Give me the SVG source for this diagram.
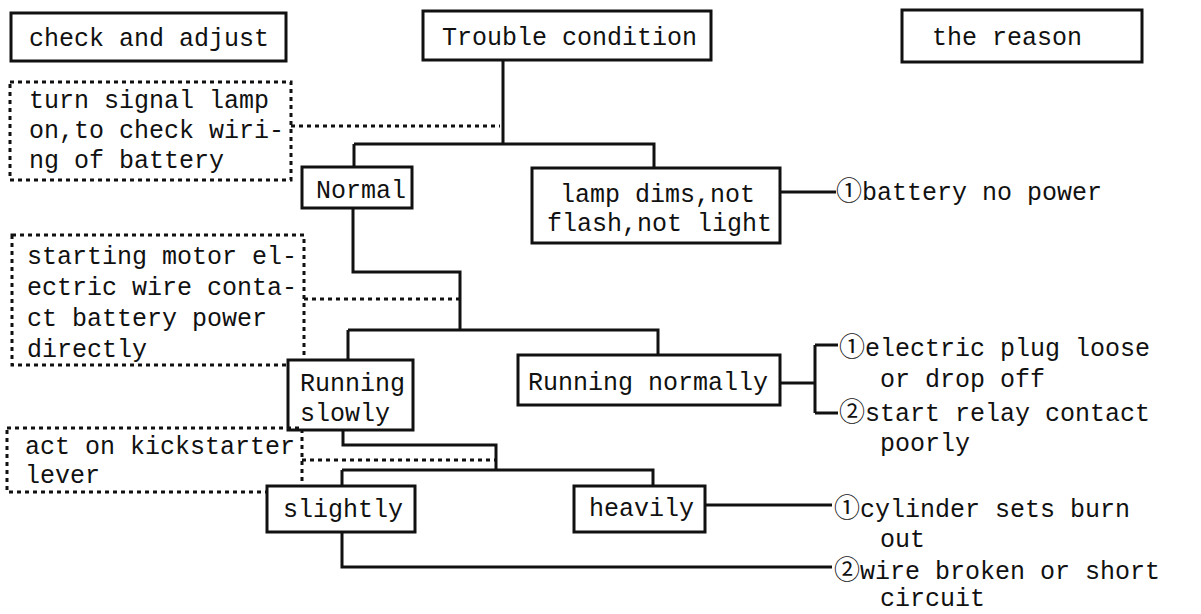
<svg xmlns="http://www.w3.org/2000/svg" width="1201" height="614" viewBox="0 0 1201 614">
<style>
text{font-family:"Liberation Mono","DejaVu Sans Mono",monospace;font-size:25px;fill:#111}
.c{font-family:"Noto Sans CJK JP","DejaVu Sans",sans-serif;font-size:26px}
.box{fill:#fff;stroke:#111;stroke-width:3}
.dot{fill:none;stroke:#111;stroke-width:3;stroke-dasharray:4 4}
.ln{fill:none;stroke:#111;stroke-width:3}
</style>
<rect width="1201" height="614" fill="#fff"/>
<g id="connectors">
<path class="ln" d="M503,60 V144 M354,144 H654 V168 M354,144 V167"/>
<path class="ln" d="M780,192 H836"/>
<path class="ln" d="M353,208 V272 H460 V330 M348,330 H658 V355 M348,330 V360"/>
<path class="ln" d="M780,383 H815 M815,345 V413 M815,345 H838 M815,413 H838"/>
<path class="ln" d="M343,430 V445 H496 V470 M342,470 H653 V486 M342,470 V486"/>
<path class="ln" d="M705,505 H832"/>
<path class="ln" d="M342,532 V567 H832"/>
<path class="dot" d="M291,126 H500"/>
<path class="dot" d="M304,299 H460"/>
<path class="dot" d="M302,460 H496"/>
</g>
<g id="check-and-adjust">
<rect class="box" x="11" y="13" width="275" height="48"/>
<text x="29" y="46">check and adjust</text>
</g>
<g id="trouble-condition">
<rect class="box" x="423" y="11" width="288" height="49"/>
<text x="442" y="45">Trouble condition</text>
</g>
<g id="the-reason">
<rect class="box" x="902" y="10" width="240" height="52"/>
<text x="932" y="45">the reason</text>
</g>
<g id="check1">
<rect class="dot" x="10" y="82" width="281" height="98"/>
<text x="29" y="108">turn signal lamp</text>
<text x="29" y="138">on,to check wiri-</text>
<text x="29" y="168">ng of battery</text>
</g>
<g id="normal">
<rect class="box" x="302" y="167" width="110" height="41"/>
<text x="316" y="198">Normal</text>
</g>
<g id="lamp-dims">
<rect class="box" x="532" y="168" width="248" height="75"/>
<text x="560" y="202">lamp dims,not</text>
<text x="547" y="231">flash,not light</text>
</g>
<g id="reason-battery">
<text x="836" y="200"><tspan class="c">①</tspan>battery no power</text>
</g>
<g id="check2">
<rect class="dot" x="12" y="235" width="292" height="130"/>
<text x="27" y="264">starting motor el-</text>
<text x="27" y="295">ectric wire conta-</text>
<text x="27" y="326">ct battery power</text>
<text x="27" y="357">directly</text>
</g>
<g id="running-slowly">
<rect class="box" x="288" y="360" width="125" height="70"/>
<text x="300" y="391">Running</text>
<text x="300" y="421">slowly</text>
</g>
<g id="running-normally">
<rect class="box" x="518" y="355" width="262" height="50"/>
<text x="528" y="390">Running normally</text>
</g>
<g id="reason-running-normally">
<text x="839" y="356"><tspan class="c">①</tspan>electric plug loose</text>
<text x="880" y="387">or drop off</text>
<text x="839" y="421"><tspan class="c">②</tspan>start relay contact</text>
<text x="880" y="451">poorly</text>
</g>
<g id="check3">
<rect class="dot" x="7" y="428" width="295" height="64"/>
<text x="25" y="454">act on kickstarter</text>
<text x="25" y="483">lever</text>
</g>
<g id="slightly">
<rect class="box" x="267" y="486" width="148" height="46"/>
<text x="283" y="517">slightly</text>
</g>
<g id="heavily">
<rect class="box" x="574" y="486" width="131" height="46"/>
<text x="589" y="516">heavily</text>
</g>
<g id="reason-heavily">
<text x="834" y="517"><tspan class="c">①</tspan>cylinder sets burn</text>
<text x="880" y="547">out</text>
</g>
<g id="reason-slightly">
<text x="834" y="579"><tspan class="c">②</tspan>wire broken or short</text>
<text x="880" y="606">circuit</text>
</g>
</svg>
